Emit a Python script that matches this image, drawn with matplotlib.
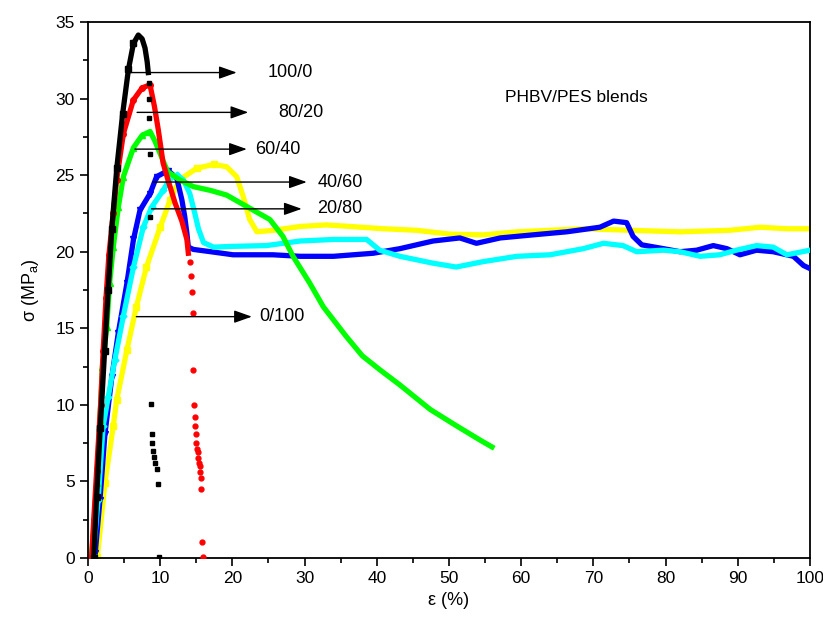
import numpy as np
import matplotlib
matplotlib.use("Agg")
import matplotlib.pyplot as plt
from matplotlib.ticker import MultipleLocator

plt.rcParams['font.family'] = ['Liberation Sans', 'DejaVu Sans']

### Data
# 100/0
x_100 = [0.8, 1.2, 1.7, 2.3, 2.8, 3.3, 4.0, 4.8, 5.6, 6.3, 6.97, 7.5, 7.9, 8.2, 8.35]
y_100 = [0.0, 4.0, 8.5, 13.5, 17.5, 21.5, 25.5, 29.0, 31.9, 33.6, 34.15, 33.9, 33.3, 32.4, 31.7]
x_100_tail = [8.45, 8.5, 8.5, 8.6, 8.6, 8.7, 8.8, 8.9, 9.0, 9.1, 9.3, 9.5, 9.65, 9.8]
y_100_tail = [31.0, 30.0, 28.7, 26.4, 22.3, 10.06, 8.1, 7.5, 7.0, 6.6, 6.2, 5.8, 4.8, 0.05]

# 80/20
x_80 = [0.5, 0.8, 1.2, 1.75, 2.1, 2.5, 2.9, 3.5, 3.97, 4.9, 6.28, 7.5, 8.59, 9.2, 9.74,
        10.4, 11.2, 12.05, 13.0, 13.7, 13.9]
y_80 = [0.0, 2.5, 5.7, 10.0, 13.5, 17.0, 19.8, 22.5, 24.7, 27.7, 29.9, 30.7, 30.9, 29.5, 27.96,
        25.8, 24.5, 23.2, 22.0, 20.8, 19.9]
x_80_tail = [14.1, 14.3, 14.4, 14.5, 14.6, 14.7, 14.8, 14.86, 14.96, 15.0, 15.1, 15.2, 15.3,
             15.4, 15.5, 15.55, 15.65, 15.7, 15.8, 15.9]
y_80_tail = [19.3, 18.4, 17.4, 16.0, 12.3, 10.0, 9.2, 8.6, 8.1, 7.5, 7.1, 6.9, 6.5,
             6.2, 6.0, 5.6, 5.2, 4.5, 1.07, 0.05]

# 60/40
x_60 = [0.5, 0.73, 1.2, 1.66, 2.0, 2.6, 3.0, 3.5, 4.2, 4.9, 6.3, 7.5, 8.6, 9.3, 10.0, 10.7,
        11.1, 12.7, 14.6, 17.0, 19.2, 22.0, 25.2, 27.0, 28.4, 30.7, 32.6, 35.8, 38.0, 40.4,
        43.2, 47.4, 50.8, 54.3, 55.96]
y_60 = [0.0, 1.6, 4.9, 9.0, 12.5, 15.1, 17.96, 20.3, 22.9, 24.9, 26.8, 27.6, 27.85, 27.2, 26.4, 25.6,
        25.2, 24.7, 24.25, 24.0, 23.7, 22.95, 22.1, 21.0, 19.7, 17.96, 16.4, 14.45, 13.2, 12.3,
        11.3, 9.7, 8.7, 7.7, 7.25]

# 40/60
x_40 = [1.0, 1.66, 2.35, 3.3, 4.2, 5.4, 6.3, 7.2, 8.6, 9.5, 11.1, 12.3, 13.0, 13.4, 13.7, 13.9,
        14.6, 17.0, 20.1, 25.6, 29.4, 34.0, 39.5, 43.2, 47.8, 51.5, 53.8, 57.1, 61.6, 66.3,
        70.9, 72.8, 74.6, 75.5, 76.7, 79.7, 82.0, 84.3, 86.6, 88.5, 90.3, 92.6, 94.9, 97.7,
        99.1, 100.0]
y_40 = [0.3, 3.8, 8.1, 11.8, 14.7, 17.96, 20.8, 22.7, 23.8, 24.9, 25.3, 24.8, 23.4, 22.3, 21.2, 20.3,
        20.15, 20.0, 19.8, 19.8, 19.7, 19.7, 19.9, 20.2, 20.7, 20.9, 20.55, 20.9, 21.1, 21.3,
        21.6, 22.0, 21.9, 21.0, 20.45, 20.2, 20.0, 20.1, 20.4, 20.2, 19.8, 20.1, 20.0, 19.7,
        19.1, 18.9]

# 20/80
x_20 = [0.73, 1.4, 2.1, 2.8, 3.7, 4.9, 6.3, 7.66, 8.8, 10.4, 11.4, 12.3, 13.2, 14.1, 14.8,
        15.3, 16.0, 17.4, 20.1, 24.7, 29.4, 34.0, 38.6, 40.4, 43.2, 47.8, 51.0, 54.7, 59.4,
        64.0, 68.6, 71.4, 74.1, 76.0, 79.7, 82.0, 84.8, 87.5, 89.8, 92.6, 94.9, 96.8, 100.0]
y_20 = [0.2, 3.8, 8.6, 10.5, 12.9, 15.8, 19.0, 21.6, 22.9, 24.0, 24.8, 25.0, 24.7, 23.8, 22.5,
        21.5, 20.6, 20.3, 20.35, 20.4, 20.7, 20.8, 20.8, 20.1, 19.7, 19.25, 19.0, 19.35, 19.7,
        19.8, 20.2, 20.55, 20.4, 20.0, 20.1, 20.0, 19.7, 19.8, 20.1, 20.4, 20.3, 19.8, 20.1]

# 0/100
x_0 = [1.3, 2.35, 3.5, 3.97, 5.4, 6.7, 8.1, 10.0, 11.4, 12.7, 15.05, 17.4, 19.2, 20.6, 21.5,
       22.4, 23.4, 25.7, 29.4, 33.0, 36.3, 40.9, 45.5, 50.1, 54.75, 59.4, 64.0, 68.6, 75.1,
       82.0, 88.9, 93.1, 96.8, 100.0]
y_0 = [0.05, 4.9, 8.6, 10.3, 13.6, 16.4, 19.0, 21.6, 23.4, 24.7, 25.45, 25.7, 25.55, 24.9, 23.6,
       22.1, 21.3, 21.4, 21.65, 21.75, 21.65, 21.5, 21.4, 21.15, 21.1, 21.3, 21.4, 21.5, 21.4,
       21.3, 21.4, 21.6, 21.5, 21.5]

# labels: (name, arrow start x, arrow end x, y, text x)
LABELS = ['100/0', '80/20', '60/40', '40/60', '20/80', '0/100']
ARROW_X0 = [5.6, 6.8, 6.5, 9.0, 8.8, 6.7]
ARROW_X1 = [20.6, 22.2, 22.0, 30.3, 29.6, 22.7]
ARROW_Y = [31.7, 29.1, 26.7, 24.55, 22.8, 15.76]
TEXT_X = [24.9, 26.3, 23.1, 31.8, 31.8, 23.7]

### Figure
fig = plt.figure(figsize=(8.23, 6.24), dpi=100)
ax = fig.add_axes([0.1069, 0.1058, 0.8773, 0.8589])

LW = 3.8
ax.plot(x_0, y_0, color='#ffff00', lw=LW, marker='s', ms=4, markevery=slice(0, 12), zorder=2)
ax.plot(x_40, y_40, color='#0000ff', lw=LW, marker='v', ms=4, markevery=slice(0, 11), zorder=3)
ax.plot(x_20, y_20, color='#00ffff', lw=LW, marker='D', ms=3.5, markevery=slice(0, 12), zorder=4)
ax.plot(x_60, y_60, color='#00ff00', lw=LW, marker='^', ms=4.5, markevery=slice(0, 13), zorder=5)
ax.plot(x_80, y_80, color='#ff0000', lw=LW, marker='o', ms=4, markevery=slice(0, 13), zorder=6)
ax.plot(x_80_tail, y_80_tail, ls='none', color='#ff0000', marker='o', ms=3.5, zorder=6)
ax.plot(x_100, y_100, color='black', lw=LW, marker='s', ms=4, markevery=slice(0, 10), zorder=7)
ax.plot(x_100_tail, y_100_tail, ls='none', color='black', marker='s', ms=3.5, zorder=7)

for lab, xa, xb, ya, xt in zip(LABELS, ARROW_X0, ARROW_X1, ARROW_Y, TEXT_X):
    ax.annotate('', xy=(xb, ya), xytext=(xa, ya),
                arrowprops=dict(arrowstyle='-|>,head_length=0.9,head_width=0.32', color='black',
                                lw=1.0, mutation_scale=12, shrinkA=0, shrinkB=0), zorder=8)
    ax.text(xt, ya, lab, fontsize=13, va='center', ha='left', zorder=8)

ax.text(57.8, 30.05, 'PHBV/PES blends', fontsize=12.5, va='center', ha='left')

ax.set_xlim(0, 100)
ax.set_ylim(0, 35)
ax.xaxis.set_major_locator(MultipleLocator(10))
ax.xaxis.set_minor_locator(MultipleLocator(5))
ax.yaxis.set_major_locator(MultipleLocator(5))
ax.yaxis.set_minor_locator(MultipleLocator(2.5))
ax.tick_params(which='major', direction='out', length=6, width=1.2, labelsize=12.5)
ax.tick_params(which='minor', direction='out', length=3.5, width=1.2)
for sp in ax.spines.values():
    sp.set_linewidth(1.3)

ax.set_xlabel('ε (%)', fontsize=13)
ax.set_ylabel('σ (MP$_\\mathregular{a}$)', fontsize=13, labelpad=10)

fig.savefig('out.png', dpi=100)
